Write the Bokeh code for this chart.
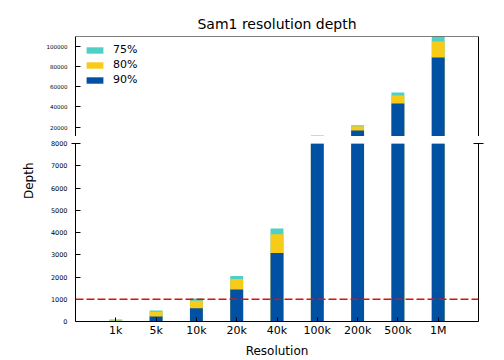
from bokeh.plotting import figure
from bokeh.layouts import column
from bokeh.models import (Range1d, FixedTicker, Span, Legend, Title, LinearAxis,
                          LegendItem, ColumnDataSource, BasicTickFormatter)
from bokeh.embed import file_html
from bokeh.resources import INLINE

# ---------------- data ----------------
resolutions = ["1k", "5k", "10k", "20k", "40k", "100k", "200k", "500k", "1M"]
depth_75 = [90, 490, 1030, 2040, 4180, 11800, 22000, 54300, 109500]
depth_80 = [50, 440, 930, 1910, 3920, 10300, 21000, 51300, 104700]
depth_90 = [15, 220, 590, 1440, 3080, 9500, 16700, 43400, 88800]
series_labels = ["75%", "80%", "90%"]
top_ticks = [20000, 40000, 60000, 80000, 100000]
bottom_ticks = [0, 1000, 2000, 3000, 4000, 5000, 6000, 7000, 8000]
threshold = 1000
top_limits = (10815, 109600)
bottom_limits = (0, 8000)

# ---------------- style ----------------
FONT = "DejaVu Sans"
C75, C80, C90 = "#4fd0c6", "#f8cb18", "#0050a4"
BAR_W = 0.32

xs = list(range(len(resolutions)))
src = ColumnDataSource(dict(x=xs, d75=depth_75, d80=depth_80, d90=depth_90))
x_lo, x_hi = -1, len(resolutions)


def base_fig(height, y_lim, border_top, border_bottom, ticks, break_at, label_size, **kw):
    p = figure(width=504, height=height, x_range=Range1d(x_lo, x_hi),
               y_range=Range1d(*y_lim), output_backend="svg",
               toolbar_location=None, min_border_left=75, min_border_right=26,
               min_border_top=border_top, min_border_bottom=border_bottom, **kw)
    p.outline_line_color = None
    p.xgrid.visible = False
    p.ygrid.visible = False
    p.background_fill_color = "white"
    p.border_fill_color = "white"
    rs = []
    for col, c in (("d75", C75), ("d80", C80), ("d90", C90)):
        rs.append(p.vbar(x="x", top=col, bottom=0, width=BAR_W, source=src,
                         fill_color=c, line_color=None))
    yax = p.yaxis[0]
    yax.ticker = FixedTicker(ticks=ticks, minor_ticks=[break_at])
    yax.axis_line_color = "black"
    yax.major_tick_in = 5
    yax.major_tick_out = 0
    yax.minor_tick_in = 4
    yax.minor_tick_out = 4
    yax.minor_tick_line_color = "black"
    yax.major_label_standoff = 4
    yax.major_label_text_font = FONT
    yax.major_label_text_font_size = label_size
    yax.major_label_text_color = "black"
    yax.formatter = BasicTickFormatter(use_scientific=False)
    # right spine with break mark
    rax = LinearAxis(ticker=FixedTicker(ticks=[], minor_ticks=[break_at]),
                     axis_line_color="black", major_tick_in=0, major_tick_out=0,
                     minor_tick_in=5, minor_tick_out=5, minor_tick_line_color="black",
                     major_label_text_font_size="0px", major_label_standoff=0)
    p.add_layout(rax, "right")
    return p, rs


# ---------------- top panel ----------------
top, rs = base_fig(136, top_limits, 36, 0, top_ticks, top_limits[0], "5.5px",
                   x_axis_location=None, title="Sam1 resolution depth")
top.title.align = "center"
top.title.text_font = FONT
top.title.text_font_size = "14px"
top.title.text_font_style = "normal"
top.title.text_color = "black"
top.title.standoff = 10
top.add_layout(Span(location=top_limits[1], dimension="width", line_color="black", line_width=1))

legend = Legend(items=[LegendItem(label=lab, renderers=[r]) for lab, r in zip(series_labels, rs)],
                location=(9, 50), border_line_color=None, background_fill_alpha=0,
                padding=0, margin=0, spacing=2, glyph_width=21, glyph_height=8,
                label_standoff=8, label_text_font=FONT, label_text_font_size="11px",
                label_text_color="black", label_height=8)
top.add_layout(legend)

# ---------------- bottom panel ----------------
bot, _ = base_fig(224, bottom_limits, 7, 36, bottom_ticks, bottom_limits[1], "6.5px")
xax = bot.xaxis[0]
xax.ticker = FixedTicker(ticks=xs)
xax.major_label_overrides = {i: lab for i, lab in zip(xs, resolutions)}
xax.major_tick_in = 4
xax.major_tick_out = 0
xax.minor_tick_line_color = None
xax.major_label_standoff = 2
xax.major_label_text_font = FONT
xax.major_label_text_font_size = "11px"
xax.major_label_text_color = "black"
xax.axis_line_color = "black"
xax.axis_label = "Resolution"
xax.axis_label_standoff = 4
xax.axis_label_text_font = FONT
xax.axis_label_text_font_size = "12px"
xax.axis_label_text_font_style = "normal"
xax.axis_label_text_color = "black"

bot.add_layout(Span(location=threshold, dimension="width", line_color="#dd1010",
                    line_width=1.4, line_dash="8 3"))

bot.add_layout(Title(text="Depth", align="right", offset=19, standoff=24,
                     text_font=FONT, text_font_size="12px", text_font_style="normal",
                     text_color="black"), "left")

layout = column(top, bot, spacing=0)
open("out.html", "w").write(file_html(layout, INLINE))
